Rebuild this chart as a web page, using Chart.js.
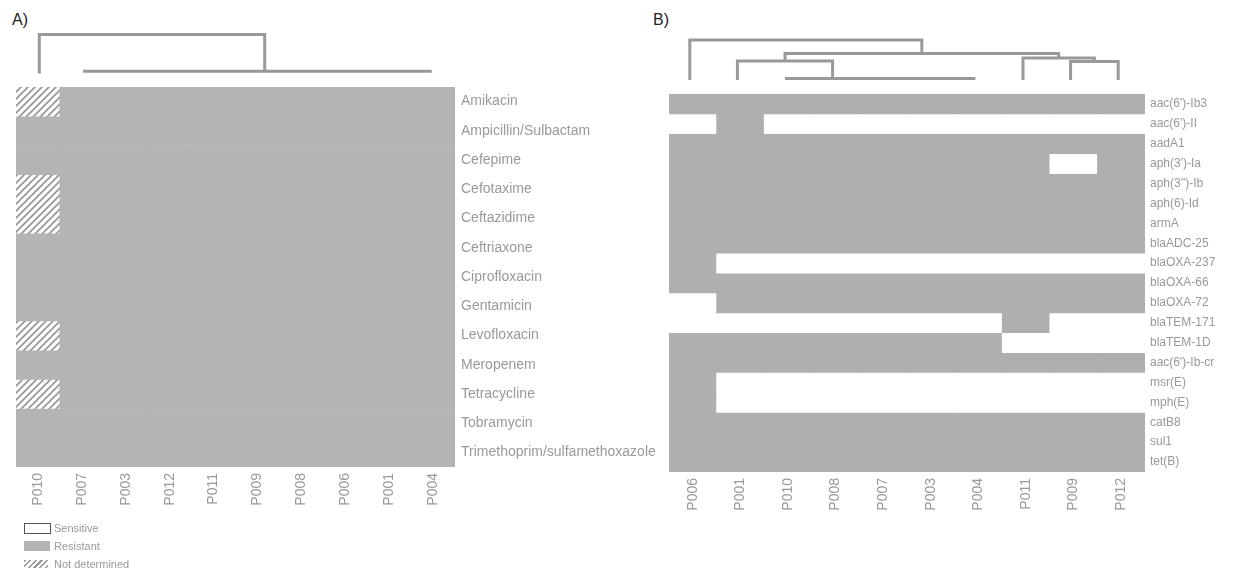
<!DOCTYPE html>
<html>
<head>
<meta charset="utf-8">
<script src="https://cdn.jsdelivr.net/npm/chart.js@4.4.1/dist/chart.umd.min.js"></script>
<style>
  body { margin: 0; background: #fff; font-family: "Liberation Sans", Arial, sans-serif; }
  #page { position: relative; width: 1243px; height: 573px; overflow: hidden; }
  .box { position: absolute; }
  .panel-label { position: absolute; font-size: 16px; color: #222; }
  .legend { position: absolute; left: 24px; top: 522px; font-size: 11px; color: #999; }
  .legend div { height: 18px; line-height: 12px; position: relative; padding-left: 30px; }
  .legend span { position: absolute; left: 0; top: 1px; width: 26px; height: 10px; }
</style>
</head>
<body>
<div id="page">
  <div class="panel-label" style="left:12px; top:11px;">A)</div>
  <div class="panel-label" style="left:653px; top:11px;">B)</div>

  <div class="box" style="left:16px; top:29.5px; width:439px; height:47.5px;"><canvas id="dendroA"></canvas></div>
  <div class="box" style="left:0px; top:80px; width:720px; height:445px;"><canvas id="heatA"></canvas></div>

  <div class="box" style="left:666px; top:36px; width:476px; height:48px;"><canvas id="dendroB"></canvas></div>
  <div class="box" style="left:660px; top:86px; width:583px; height:445px;"><canvas id="heatB"></canvas></div>

  <div class="legend">
    <div><span style="border:1px solid #555; width:25px; height:9px;"></span>Sensitive</div>
    <div><span style="background:#b4b4b4;"></span>Resistant</div>
    <div><span style="background:repeating-linear-gradient(135deg, #999 0 1.5px, #fff 1.5px 4px); width:24px; height:8px; top:2px;"></span>Not determined</div>
  </div>
</div>

<script>
// 0 = sensitive, 1 = resistant, 2 = not determined

// ---- panel A: antibiotic susceptibility ----
const patientsA = ["P010", "P007", "P003", "P012", "P011", "P009", "P008", "P006", "P001", "P004"];
const drugsA = ["Amikacin", "Ampicillin/Sulbactam", "Cefepime", "Cefotaxime", "Ceftazidime",
  "Ceftriaxone", "Ciprofloxacin", "Gentamicin", "Levofloxacin", "Meropenem",
  "Tetracycline", "Tobramycin", "Trimethoprim/sulfamethoxazole"];
const resultsA = [
  [2, 1, 1, 1, 1, 1, 1, 1, 1, 1],
  [1, 1, 1, 1, 1, 1, 1, 1, 1, 1],
  [1, 1, 1, 1, 1, 1, 1, 1, 1, 1],
  [2, 1, 1, 1, 1, 1, 1, 1, 1, 1],
  [2, 1, 1, 1, 1, 1, 1, 1, 1, 1],
  [1, 1, 1, 1, 1, 1, 1, 1, 1, 1],
  [1, 1, 1, 1, 1, 1, 1, 1, 1, 1],
  [1, 1, 1, 1, 1, 1, 1, 1, 1, 1],
  [2, 1, 1, 1, 1, 1, 1, 1, 1, 1],
  [1, 1, 1, 1, 1, 1, 1, 1, 1, 1],
  [2, 1, 1, 1, 1, 1, 1, 1, 1, 1],
  [1, 1, 1, 1, 1, 1, 1, 1, 1, 1],
  [1, 1, 1, 1, 1, 1, 1, 1, 1, 1]
];
// dendrogram links: leaf/node positions (column index) and heights
const linksA = [
  { from: 0, to: 5.17, h: 0.99, h1: 0, h2: 0.06 },
  { from: 1, to: 9, h: 0.06, h1: 0.06, h2: 0.06 }
];

// ---- panel B: resistance genes ----
const patientsB = ["P006", "P001", "P010", "P008", "P007", "P003", "P004", "P011", "P009", "P012"];
const genesB = ["aac(6')-Ib3", "aac(6')-II", "aadA1", "aph(3')-Ia", "aph(3'')-Ib", "aph(6)-Id",
  "armA", "blaADC-25", "blaOXA-237", "blaOXA-66", "blaOXA-72", "blaTEM-171", "blaTEM-1D",
  "aac(6')-Ib-cr", "msr(E)", "mph(E)", "catB8", "sul1", "tet(B)"];
const resultsB = [
  [1, 1, 1, 1, 1, 1, 1, 1, 1, 1],
  [0, 1, 0, 0, 0, 0, 0, 0, 0, 0],
  [1, 1, 1, 1, 1, 1, 1, 1, 1, 1],
  [1, 1, 1, 1, 1, 1, 1, 1, 0, 1],
  [1, 1, 1, 1, 1, 1, 1, 1, 1, 1],
  [1, 1, 1, 1, 1, 1, 1, 1, 1, 1],
  [1, 1, 1, 1, 1, 1, 1, 1, 1, 1],
  [1, 1, 1, 1, 1, 1, 1, 1, 1, 1],
  [1, 0, 0, 0, 0, 0, 0, 0, 0, 0],
  [1, 1, 1, 1, 1, 1, 1, 1, 1, 1],
  [0, 1, 1, 1, 1, 1, 1, 1, 1, 1],
  [0, 0, 0, 0, 0, 0, 0, 1, 0, 0],
  [1, 1, 1, 1, 1, 1, 1, 0, 0, 0],
  [1, 1, 1, 1, 1, 1, 1, 1, 1, 1],
  [1, 0, 0, 0, 0, 0, 0, 0, 0, 0],
  [1, 0, 0, 0, 0, 0, 0, 0, 0, 0],
  [1, 1, 1, 1, 1, 1, 1, 1, 1, 1],
  [1, 1, 1, 1, 1, 1, 1, 1, 1, 1],
  [1, 1, 1, 1, 1, 1, 1, 1, 1, 1]
];
const linksB = [
  { from: 0, to: 4.875, h: 1.0, h1: 0, h2: 0.66 },
  { from: 2, to: 7.75, h: 0.66, h1: 0.475, h2: 0.55 },
  { from: 1, to: 3, h: 0.475, h1: 0, h2: 0.04 },
  { from: 2, to: 6, h: 0.04, h1: 0.04, h2: 0.04 },
  { from: 7, to: 8.5, h: 0.55, h1: 0, h2: 0.46 },
  { from: 8, to: 9, h: 0.46, h1: 0, h2: 0 }
];

const textColor = "#999";
const lineColor = "#999";
const fontFamily = "'Liberation Sans', Arial, sans-serif";

function makeHatch() {
  const c = document.createElement("canvas");
  c.width = 7;
  c.height = 7;
  const g = c.getContext("2d");
  g.fillStyle = "#fff";
  g.fillRect(0, 0, 7, 7);
  g.strokeStyle = "#999";
  g.lineWidth = 1.8;
  g.beginPath();
  g.moveTo(-1, 8); g.lineTo(8, -1);
  g.moveTo(-2, 2); g.lineTo(2, -2);
  g.moveTo(5, 9); g.lineTo(9, 5);
  g.stroke();
  return g.createPattern(c, "repeat");
}
const hatch = makeHatch();

function heatmap(canvasId, cols, rows, results, grey, opts) {
  const fills = ["#ffffff", grey, hatch];
  const datasets = rows.map((name, r) => ({
    label: name,
    data: cols.map(() => 1),
    backgroundColor: results[r].map((v) => fills[v]),
    borderWidth: 0,
    barPercentage: 1,
    categoryPercentage: 1
  }));

  new Chart(document.getElementById(canvasId), {
    type: "bar",
    data: { labels: cols, datasets: datasets },
    options: {
      responsive: true,
      maintainAspectRatio: false,
      animation: false,
      layout: { padding: { left: opts.padLeft, top: opts.padTop, right: 0, bottom: 0 } },
      plugins: { legend: { display: false }, tooltip: { enabled: false } },
      scales: {
        x: {
          stacked: true,
          grid: { display: false, drawTicks: false },
          border: { display: false },
          ticks: {
            color: textColor,
            font: { family: fontFamily, size: opts.xFont },
            minRotation: 90,
            maxRotation: 90,
            autoSkip: false,
            padding: opts.xPad
          },
          afterFit: (scale) => {
            scale.height = opts.xHeight;
            scale.paddingLeft = 0;
            scale.paddingRight = 0;
          }
        },
        y: {
          stacked: true,
          position: "right",
          reverse: true,
          min: 0,
          max: rows.length,
          grid: { display: false, drawTicks: false },
          border: { display: false },
          afterBuildTicks: (scale) => {
            scale.ticks = rows.map((r, i) => ({ value: i + 0.5 }));
          },
          ticks: {
            color: textColor,
            font: { family: fontFamily, size: opts.yFont },
            autoSkip: false,
            padding: opts.yPad,
            callback: (value) => rows[Math.floor(value)]
          },
          afterFit: (scale) => {
            scale.width = opts.yWidth;
            scale.paddingTop = 0;
            scale.paddingBottom = 0;
          }
        }
      }
    }
  });
}

function dendrogram(canvasId, links, n) {
  const datasets = links.map((l) => ({
    data: [
      { x: l.from, y: l.h1 },
      { x: l.from, y: l.h },
      { x: l.to, y: l.h },
      { x: l.to, y: l.h2 }
    ],
    showLine: true,
    borderColor: lineColor,
    borderWidth: 3,
    borderJoinStyle: "miter",
    pointRadius: 0,
    clip: false
  }));

  new Chart(document.getElementById(canvasId), {
    type: "scatter",
    data: { datasets: datasets },
    options: {
      responsive: true,
      maintainAspectRatio: false,
      animation: false,
      layout: { padding: { top: 4, bottom: 4, left: 0, right: 0 } },
      plugins: { legend: { display: false }, tooltip: { enabled: false } },
      scales: {
        x: { type: "linear", display: false, min: -0.5, max: n - 0.5 },
        y: { type: "linear", display: false, min: 0, max: 1 }
      }
    }
  });
}

heatmap("heatA", patientsA, drugsA, resultsA, "#b4b4b4",
  { padLeft: 16, padTop: 7, xHeight: 58, yWidth: 265, xFont: 14, yFont: 14, yPad: 6, xPad: 6 });
heatmap("heatB", patientsB, genesB, resultsB, "#afafaf",
  { padLeft: 9, padTop: 8, xHeight: 59, yWidth: 98, xFont: 14, yFont: 12, yPad: 5, xPad: 6 });

dendrogram("dendroA", linksA, patientsA.length);
dendrogram("dendroB", linksB, patientsB.length);
</script>
</body>
</html>
